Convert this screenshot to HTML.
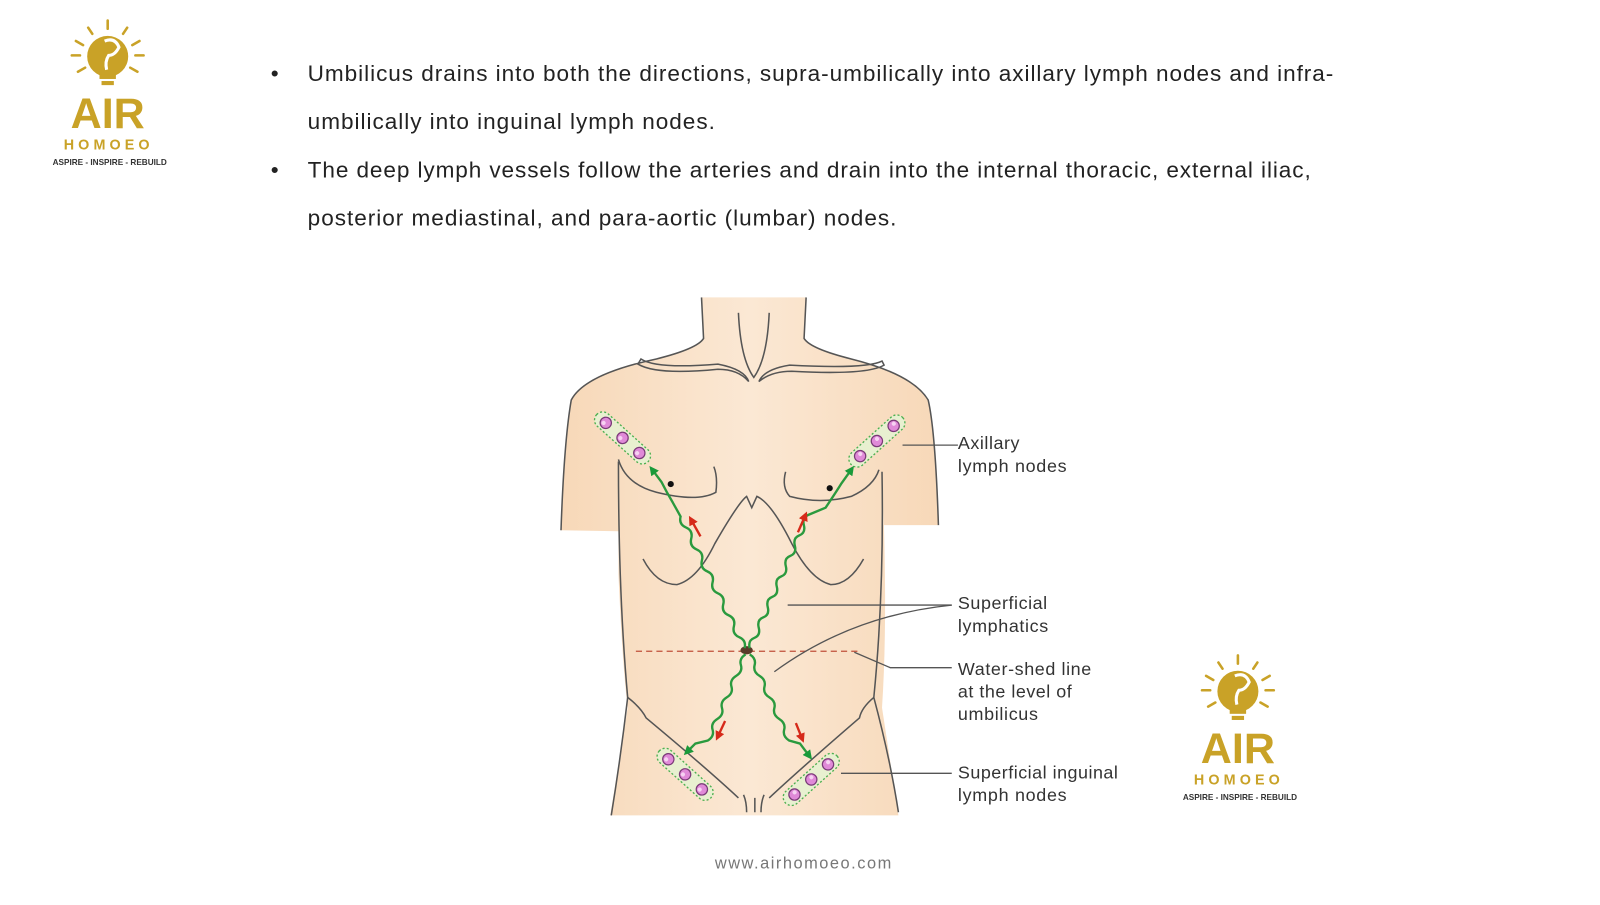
<!DOCTYPE html>
<html><head><meta charset="utf-8"><style>
body{margin:0;width:1600px;height:900px;background:#fff;overflow:hidden;font-family:"Liberation Sans",sans-serif}
</style></head><body>
<svg width="1600" height="900" viewBox="0 0 1600 900" xmlns="http://www.w3.org/2000/svg">
<defs>
<g id="logo">
 <g stroke="#c9a227" stroke-width="2.5" stroke-linecap="round">
  <line x1="105" y1="20" x2="105" y2="28"/><line x1="86" y1="27" x2="90" y2="33"/><line x1="124" y1="27" x2="120" y2="33"/>
  <line x1="74" y1="40" x2="81" y2="44"/><line x1="136" y1="40" x2="129" y2="44"/><line x1="70" y1="54" x2="78" y2="54"/>
  <line x1="140" y1="54" x2="132" y2="54"/><line x1="76" y1="70" x2="83" y2="66"/><line x1="134" y1="70" x2="127" y2="66"/>
 </g>
 <circle cx="105" cy="55" r="20" fill="#c9a227"/>
 <path d="M102 40 q10 -4 14 6 q-4 8 -10 8 q-4 6 -2 14" stroke="#fff" stroke-width="3" fill="none"/>
 <rect x="97" y="73" width="16" height="4" fill="#c9a227"/><rect x="99" y="79" width="12" height="4" fill="#c9a227"/>
 <text x="105" y="125" text-anchor="middle" font-family="Liberation Sans" font-weight="bold" font-size="42" fill="#c9a227">AIR</text>
 <text x="106" y="146" text-anchor="middle" font-family="Liberation Sans" font-weight="bold" font-size="14" letter-spacing="4" fill="#c9a227">HOMOEO</text>
 <text x="107" y="161" text-anchor="middle" font-family="Liberation Sans" font-weight="bold" font-size="8" fill="#333">ASPIRE - INSPIRE - REBUILD</text>
</g>
<linearGradient id="skin" x1="0" x2="1">
 <stop offset="0" stop-color="#f7d8b8"/><stop offset="0.5" stop-color="#fbe8d4"/><stop offset="1" stop-color="#f7d8b8"/>
</linearGradient>
<g id="node3">
 <rect x="-8" y="-34" width="16" height="68" rx="8" fill="#e8f0d0" stroke="#4caf50" stroke-width="1.3" stroke-dasharray="2 2"/>
 <g fill="#e08ad8" stroke="#7a3a78" stroke-width="1.2"><circle cx="0" cy="-22" r="5.5"/><circle cx="0" cy="0" r="5.5"/><circle cx="0" cy="22" r="5.5"/></g>
 <g fill="#f6d2f2"><circle cx="-1.5" cy="-23.5" r="2"/><circle cx="-1.5" cy="-1.5" r="2"/><circle cx="-1.5" cy="20.5" r="2"/></g>
</g>
<marker id="ga" viewBox="0 0 10 10" refX="5" refY="5" markerWidth="4" markerHeight="4" orient="auto"><path d="M0 0 L10 5 L0 10z" fill="#1a9a3a"/></marker>
<marker id="ra" viewBox="0 0 10 10" refX="5" refY="5" markerWidth="4" markerHeight="4" orient="auto"><path d="M0 0 L10 5 L0 10z" fill="#d62a1a"/></marker>
</defs>
<g transform="scale(1.0256)">
<use href="#logo"/>
<use href="#logo" transform="translate(1102,619)"/>

<g font-family="Liberation Sans" font-size="22" fill="#222">
 <text x="264" y="79">•</text>
 <text x="300" y="79" textLength="1000" lengthAdjust="spacing">Umbilicus drains into both the directions, supra-umbilically into axillary lymph nodes and infra-</text>
 <text x="300" y="126" textLength="397" lengthAdjust="spacing">umbilically into inguinal lymph nodes.</text>
 <text x="264" y="173">•</text>
 <text x="300" y="173" textLength="978" lengthAdjust="spacing">The deep lymph vessels follow the arteries and drain into the internal thoracic, external iliac,</text>
 <text x="300" y="220" textLength="574" lengthAdjust="spacing">posterior mediastinal, and para-aortic (lumbar) nodes.</text>
</g>

<path d="M684 290 L686 330 Q680 340 640 350 Q570 365 557 390 Q550 430 547 517 L603 518 L603 450 L603 560 Q607 650 612 690 L595 795 L876 795 L860 690 Q866 600 860 460 L862 512 L915 512 Q912 420 905 390 Q890 365 830 350 Q790 340 784 330 L786 290 Z" fill="url(#skin)"/>
<g fill="none" stroke="#555" stroke-width="1.5">
 <path d="M684 290 L686 330 Q680 340 640 350 Q570 365 557 390 Q550 430 547 517"/>
 <path d="M786 290 L784 330 Q790 340 830 350 Q890 365 905 390 Q912 420 915 512"/>
 <path d="M603 450 Q603 580 612 680 Q605 740 596 795"/>
 <path d="M860 460 Q862 580 852 680 Q868 740 876 792"/>
 <path d="M720 305 Q722 350 735 368 Q748 350 750 305"/>
 <path d="M625 350 Q640 360 700 355 Q726 360 730 372 Q720 360 700 360 Q640 366 622 355 Z"/>
 <path d="M860 352 Q845 360 770 356 Q745 360 740 372 Q752 362 772 362 Q845 366 862 356 Z"/>
 <path d="M603 448 Q610 472 640 480 Q680 490 698 480 Q700 465 696 455"/>
 <path d="M766 460 Q762 475 770 484 Q800 492 830 484 Q852 474 857 458"/>
 <path d="M627 545 Q640 570 660 570 Q680 565 697 530 Q720 490 728 484 L733 495 L738 484 Q752 490 772 530 Q790 565 810 570 Q828 570 842 545"/>
 <path d="M612 680 Q625 690 630 700 Q690 750 720 778"/>
 <path d="M852 680 Q840 690 838 700 Q780 750 750 778"/>
 <path d="M725 775 Q728 782 728 792 M745 775 Q742 782 742 792 M736 778 L736 792"/>
</g>
<line x1="620" y1="635" x2="840" y2="635" stroke="#c0503a" stroke-width="1.3" stroke-dasharray="6 4"/>
<ellipse cx="728" cy="634" rx="6" ry="4" fill="#5a3a2a"/>
<circle cx="654" cy="472" r="3" fill="#111"/><circle cx="809" cy="476" r="3" fill="#111"/>

<use href="#node3" transform="translate(607,427) rotate(-48)"/>
<use href="#node3" transform="translate(855,430) rotate(48)"/>
<use href="#node3" transform="translate(668,755) rotate(-48)"/>
<use href="#node3" transform="translate(791,760) rotate(48)"/>

<g fill="none" stroke="#2a9a3e" stroke-width="2.3">
 <path d="M726 632 q1.9 -7.6 -5.2 -10.7 t-5.2 -10.7 t-5.2 -10.7 t-5.2 -10.7 t-5.2 -10.7 t-5.2 -10.7 t-5.2 -10.7 t-5.2 -10.7 t-5.2 -10.7 t-5.2 -10.7 t-5.2 -10.7 t-5.2 -10.7 L656 490 Q650 480 645 470 L636 458" marker-end="url(#ga)"/>
 <path d="M731 632 q-1.9 -7.6 4.4 -10 t4.4 -10 t4.4 -10 t4.4 -10 t4.4 -10 t4.4 -10 t4.4 -10 t4.4 -10 t4.4 -10 t4.4 -10 t4.4 -10 t4.4 -10 t4.4 -10 L805 495 Q815 480 820 472 L830 458" marker-end="url(#ga)"/>
 <path d="M727 638 q-6.5 4 -4.6 10.5 t-4.6 10.5 t-4.6 10.5 t-4.6 10.5 t-4.6 10.5 t-4.6 10.5 t-4.6 10.5 t-4.6 10.5 L678 725 L670 733" marker-end="url(#ga)"/>
 <path d="M731 638 q6.5 4 4.8 10.5 t4.8 10.5 t4.8 10.5 t4.8 10.5 t4.8 10.5 t4.8 10.5 t4.8 10.5 t4.8 10.5 L780 725 L789 737" marker-end="url(#ga)"/>
</g>
<g stroke="#d62a1a" stroke-width="2.3">
 <line x1="683" y1="523" x2="674" y2="507" marker-end="url(#ra)"/>
 <line x1="778" y1="519" x2="785" y2="503" marker-end="url(#ra)"/>
 <line x1="707" y1="703" x2="700" y2="718" marker-end="url(#ra)"/>
 <line x1="776" y1="705" x2="782" y2="720" marker-end="url(#ra)"/>
</g>

<g fill="none" stroke="#555" stroke-width="1.3">
 <line x1="880" y1="434" x2="934" y2="434"/>
 <line x1="768" y1="590" x2="928" y2="590"/>
 <path d="M755 655 Q830 600 928 590"/>
 <path d="M833 636 L868 651 L928 651"/>
 <line x1="820" y1="754" x2="928" y2="754"/>
</g>
<g font-family="Liberation Sans" font-size="17.5" fill="#333">
 <text x="934" y="438" textLength="60" lengthAdjust="spacing">Axillary</text><text x="934" y="460" textLength="106" lengthAdjust="spacing">lymph nodes</text>
 <text x="934" y="594" textLength="87" lengthAdjust="spacing">Superficial</text><text x="934" y="616" textLength="88" lengthAdjust="spacing">lymphatics</text>
 <text x="934" y="658" textLength="130" lengthAdjust="spacing">Water-shed line</text><text x="934" y="680" textLength="111" lengthAdjust="spacing">at the level of</text><text x="934" y="702" textLength="78" lengthAdjust="spacing">umbilicus</text>
 <text x="934" y="759" textLength="156" lengthAdjust="spacing">Superficial inguinal</text><text x="934" y="781" textLength="106" lengthAdjust="spacing">lymph nodes</text>
</g>
<text x="783" y="847" text-anchor="middle" font-family="Liberation Sans" font-size="16" fill="#777" textLength="172" lengthAdjust="spacing">www.airhomoeo.com</text>
</g>
</svg>
</body></html>
